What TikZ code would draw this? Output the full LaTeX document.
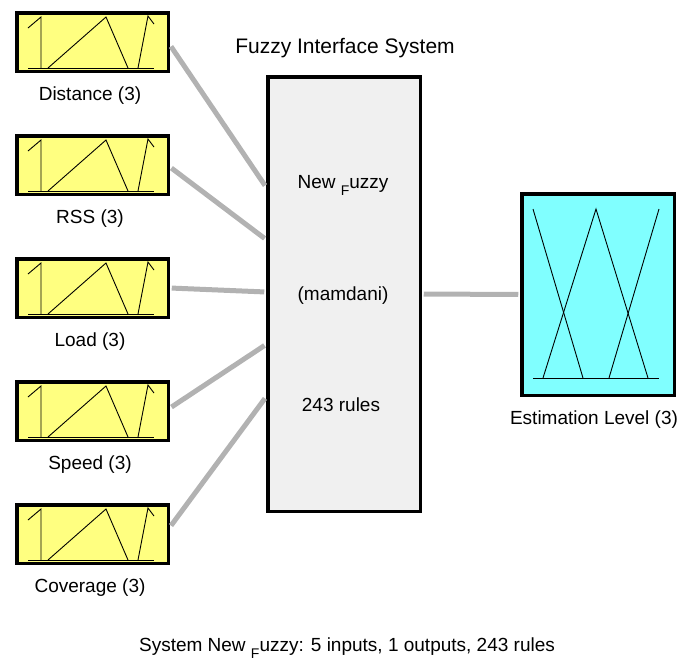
\documentclass[tikz,border=0pt]{standalone}
\usepackage{fontspec}
\setmainfont{Liberation Sans}
\usetikzlibrary{calc,shadows}

\definecolor{inyellow}{RGB}{255,255,128}
\definecolor{outcyan}{RGB}{128,255,255}
\definecolor{fisgray}{RGB}{240,240,240}
\definecolor{wiregray}{RGB}{178,178,178}

\newcommand{\subF}{\raisebox{-0.7ex}{\fontsize{14}{14}\selectfont F}}

\begin{document}
\begin{tikzpicture}[x=1pt,y=-1pt,
  varbox/.style={draw=black,line width=3.5pt,inner sep=0pt,
    drop shadow={shadow xshift=2pt,shadow yshift=-2pt,opacity=1,fill=black}},
  inbox/.style={varbox,fill=inyellow,minimum width=151.5pt,minimum height=58.5pt},
  outbox/.style={varbox,fill=outcyan,minimum width=152.5pt,minimum height=201.5pt},
  fisbox/.style={varbox,fill=fisgray,minimum width=152.5pt,minimum height=434.5pt},
  lab/.style={font=\fontsize{19}{22}\selectfont,inner sep=0pt},
  wire/.style={wiregray,line width=5pt,shorten <=1.75pt,shorten >=1.75pt},
  mf/.style={black,line width=0.9pt}]
  \useasboundingbox (0,0) rectangle (689,662);

  % inference system in the middle
  \node[fisbox] (fis) at (344,294) {};
  \node[lab,font=\fontsize{21}{24}\selectfont] (title) at (345,48) {Fuzzy Interface System};
  \node[lab] (fisname) at (343,185) {New \subF uzzy};
  \node[lab] (fistype) at (343,296) {(mamdani)};
  \node[lab] (fisrules) at (341,405) {243 rules};

  % inputs
  \foreach \nm/\lab/\t/\dy [count=\i] in {dist/Distance/11/3,rss/RSS/134/2,load/Load/257/0,speed/Speed/380/-3,cov/Coverage/503/-7}{
    \node[inbox] (\nm) at (92.5,\t+31) {};
    \node[lab] (\nm-lab) at (90,\t+85) {\lab{} (3)};
    \begin{scope}[shift={(15,\t)}]
      \draw[mf] (13,57) -- (139,57);
      \draw[mf] (13,17) -- (26,6) -- (26,57);
      \draw[mf] (33,57) -- (91,6) -- (113,57);
      \draw[mf] (123,57) -- (133,5) -- (139,13);
    \end{scope}
    \draw[wire] ([yshift=-\dy pt]\nm.east) -- ($(fis.west)+(0,{(\i-3)*52.5-2})$);
  }

  % output
  \node[outbox] (est) at (598,294.5) {};
  \node[lab] (est-lab) at (594,420) {Estimation Level (3)};
  \begin{scope}[shift={(520,192)}]
    \draw[mf] (13,186) -- (139,186);
    \draw[mf] (13,17) -- (63,186);
    \draw[mf] (23,186) -- (76,17) -- (128,186);
    \draw[mf] (89,186) -- (139,17);
  \end{scope}
  \draw[wire] (fis.east) -- (est.west);

  \node[lab] (summary) at (347,648) {System New \subF uzzy: 5 inputs, 1 outputs, 243 rules};
\end{tikzpicture}
\end{document}
